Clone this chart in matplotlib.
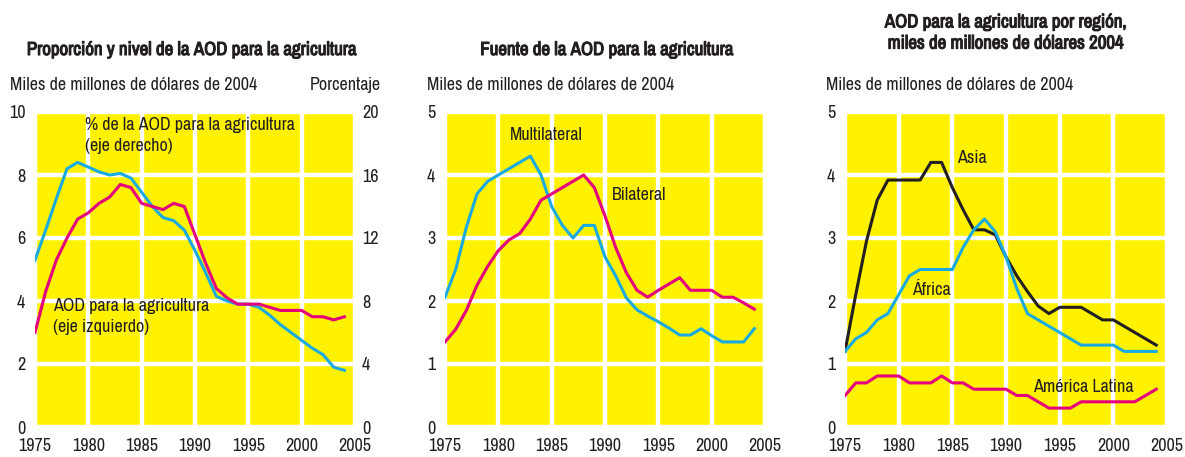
import matplotlib
matplotlib.use("Agg")
import matplotlib.pyplot as plt
import matplotlib.patheffects as pe

# ── Data ────────────────────────────────────────────────────────────────
YEARS = list(range(1975, 2005))

# Panel 1: level (left axis, billions 2004 USD) and share (right axis, %)
aod_agri = [3.0, 4.3, 5.3, 6.0, 6.6, 6.8, 7.1, 7.3, 7.7, 7.6,
            7.1, 7.0, 6.9, 7.1, 7.0, 6.1, 5.2, 4.4, 4.1, 3.9,
            3.9, 3.9, 3.8, 3.7, 3.7, 3.7, 3.5, 3.5, 3.4, 3.5]
aod_share = [10.6, 12.5, 14.5, 16.4, 16.8, 16.5, 16.2, 16.0, 16.1, 15.8,
             14.9, 14.0, 13.3, 13.1, 12.5, 11.2, 9.8, 8.3, 8.0, 7.8,
             7.8, 7.6, 7.1, 6.5, 6.0, 5.5, 5.0, 4.6, 3.8, 3.6]

# Panel 2: source
multilateral = [2.06, 2.5, 3.17, 3.7, 3.9, 4.0, 4.1, 4.2, 4.3, 4.0,
                3.5, 3.2, 3.0, 3.2, 3.2, 2.7, 2.4, 2.05, 1.86, 1.76,
                1.67, 1.57, 1.46, 1.46, 1.56, 1.45, 1.35, 1.35, 1.35, 1.56]
bilateral = [1.35, 1.55, 1.85, 2.25, 2.55, 2.8, 2.97, 3.07, 3.3, 3.6,
             3.7, 3.8, 3.9, 4.0, 3.8, 3.35, 2.85, 2.45, 2.17, 2.06,
             2.17, 2.27, 2.37, 2.17, 2.17, 2.17, 2.06, 2.06, 1.97, 1.87]

# Panel 3: region
asia = [1.2, 2.1, 2.95, 3.6, 3.92, 3.92, 3.92, 3.92, 4.2, 4.2,
        3.8, 3.45, 3.13, 3.13, 3.05, 2.7, 2.4, 2.15, 1.92, 1.8,
        1.9, 1.9, 1.9, 1.8, 1.7, 1.7, 1.6, 1.5, 1.4, 1.3]
africa = [1.2, 1.4, 1.5, 1.7, 1.8, 2.1, 2.4, 2.5, 2.5, 2.5,
          2.5, 2.85, 3.13, 3.3, 3.1, 2.7, 2.2, 1.8, 1.7, 1.6,
          1.5, 1.4, 1.3, 1.3, 1.3, 1.3, 1.2, 1.2, 1.2, 1.2]
latam = [0.5, 0.7, 0.7, 0.81, 0.81, 0.81, 0.7, 0.7, 0.7, 0.81,
         0.7, 0.7, 0.6, 0.6, 0.6, 0.6, 0.5, 0.5, 0.4, 0.3,
         0.3, 0.3, 0.4, 0.4, 0.4, 0.4, 0.4, 0.4, 0.5, 0.6]

X_TICKS = [1975, 1980, 1985, 1990, 1995, 2000, 2005]
UNIT = "Miles de millones de dólares de 2004"

# ── Style ───────────────────────────────────────────────────────────────
YELLOW = "#FFF200"
PINK = "#E5007E"
CYAN = "#1AAAE2"
BLACK = "#231F20"
TXT = "#231F20"
LW = 2.2
FS = 13
# the narrow face has no bold cut here, so thicken the titles with a stroke
BOLD = [pe.withStroke(linewidth=0.8, foreground=TXT)]

plt.rcParams["font.family"] = ["Archivo Narrow", "Liberation Sans", "DejaVu Sans"]
plt.rcParams["text.color"] = TXT
plt.rcParams["xtick.color"] = TXT
plt.rcParams["ytick.color"] = TXT

fig = plt.figure(figsize=(11.85, 4.57), dpi=100)
W, H = 1185, 457


def make_axes(left_px, right_px):
    ax = fig.add_axes([left_px / W, 1 - 427 / H, (right_px - left_px) / W, (427 - 112) / H])
    ax.set_facecolor(YELLOW)
    for s in ax.spines.values():
        s.set_visible(False)
    ax.set_xlim(1975, 2005)
    ax.set_xticks(X_TICKS)
    ax.grid(True, color="white", linewidth=3.2)
    ax.set_axisbelow(True)
    ax.tick_params(length=0, labelsize=FS, pad=8)
    ax.tick_params(axis="y", pad=7)
    return ax


def title(x_px, y_px, s, **kw):
    fig.text(x_px / W, 1 - y_px / H, s, ha="center", va="center", fontsize=13.6,
             path_effects=BOLD, **kw)


# ── Panel 1 ─────────────────────────────────────────────────────────────
ax1 = make_axes(35, 355)
ax1.set_ylim(0, 10)
ax1.set_yticks([0, 2, 4, 6, 8, 10])
ax1r = ax1.twinx()
for s in ax1r.spines.values():
    s.set_visible(False)
ax1r.set_ylim(0, 20)
ax1r.set_yticks([0, 4, 8, 12, 16, 20])
ax1r.tick_params(length=0, labelsize=FS, pad=5)
ax1r.plot(YEARS, aod_share, color=CYAN, lw=LW)
ax1r.plot(YEARS, [v * 2 for v in aod_agri], color=PINK, lw=LW)
ax1r.text(1979.7, 19.7, "% de la AOD para la agricultura\n(eje derecho)",
          fontsize=FS, va="top", linespacing=1.4)
ax1r.text(1976.7, 8.2, "AOD para la agricultura\n(eje izquierdo)",
          fontsize=FS, va="top", linespacing=1.4)

title(192, 50, "Proporción y nivel de la AOD para la agricultura")
fig.text(10 / W, 1 - 85 / H, UNIT, ha="left", va="center", fontsize=FS)
fig.text(381 / W, 1 - 85 / H, "Porcentaje", ha="right", va="center", fontsize=FS)

# ── Panel 2 ─────────────────────────────────────────────────────────────
ax2 = make_axes(445, 765)
ax2.set_ylim(0, 5)
ax2.set_yticks([0, 1, 2, 3, 4, 5])
ax2.plot(YEARS, multilateral, color=CYAN, lw=LW)
ax2.plot(YEARS, bilateral, color=PINK, lw=LW)
ax2.text(1981.1, 4.63, "Multilateral", fontsize=FS, va="center")
ax2.text(1990.6, 3.68, "Bilateral", fontsize=FS, va="center")

title(607, 50, "Fuente de la AOD para la agricultura")
fig.text(427 / W, 1 - 85 / H, UNIT, ha="left", va="center", fontsize=FS)

# ── Panel 3 ─────────────────────────────────────────────────────────────
ax3 = make_axes(845, 1167)
ax3.set_ylim(0, 5)
ax3.set_yticks([0, 1, 2, 3, 4, 5])
ax3.plot(YEARS, asia, color=BLACK, lw=LW)
ax3.plot(YEARS, africa, color=CYAN, lw=LW)
ax3.plot(YEARS, latam, color=PINK, lw=LW)
ax3.text(1985.4, 4.27, "Asia", fontsize=FS, va="center")
ax3.text(1981.2, 2.17, "África", fontsize=FS, va="center")
ax3.text(1992.5, 0.63, "América Latina", fontsize=FS, va="center")

title(1006, 33, "AOD para la agricultura por región,\nmiles de millones de dólares 2004",
      linespacing=1.4)
fig.text(826 / W, 1 - 85 / H, UNIT, ha="left", va="center", fontsize=FS)

fig.savefig("out.png", dpi=100)
